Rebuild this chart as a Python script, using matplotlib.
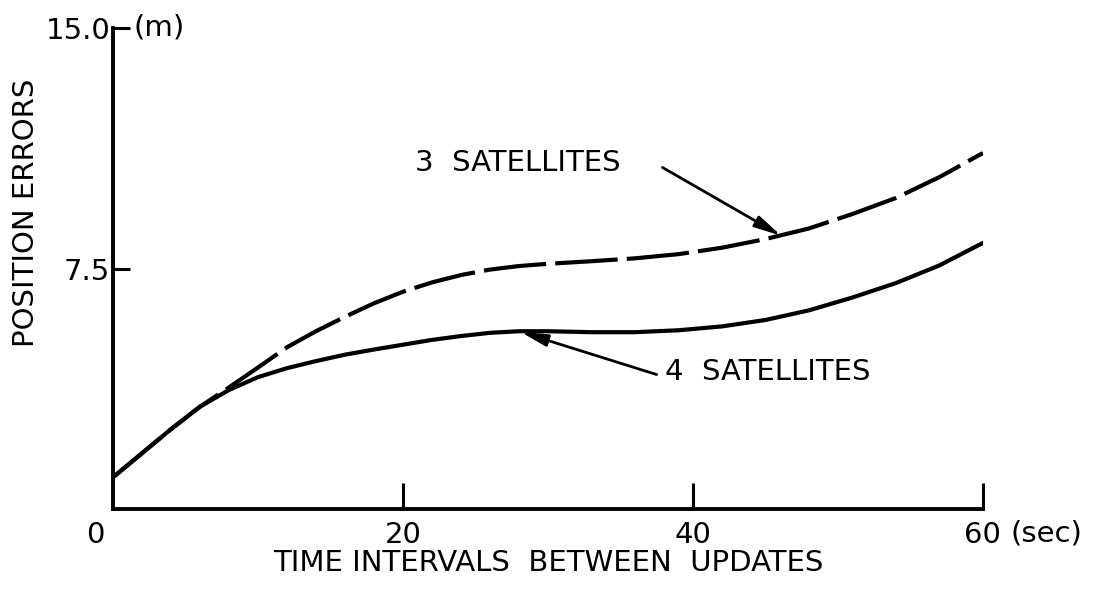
import matplotlib

matplotlib.use("Agg")
import matplotlib.pyplot as plt
import matplotlib.transforms as mtransforms

# Valores (error de posicion en m vs intervalo en s).
t_sec = [0, 2, 4, 6, 8, 10, 12, 14, 16, 18, 20, 22, 24, 26, 28, 30,
         33, 36, 39, 42, 45, 48, 51, 54, 57, 60]
err_3sat = [1.0, 1.75, 2.5, 3.2, 3.8, 4.42, 5.05, 5.55, 6.0, 6.42, 6.78, 7.07, 7.3, 7.47, 7.58, 7.65,
            7.73, 7.82, 7.95, 8.15, 8.42, 8.75, 9.2, 9.7, 10.35, 11.1]
err_4sat = [1.0, 1.75, 2.5, 3.2, 3.72, 4.12, 4.4, 4.62, 4.82, 4.98, 5.13, 5.28, 5.4, 5.5, 5.55, 5.55,
            5.52, 5.52, 5.58, 5.7, 5.9, 6.2, 6.6, 7.05, 7.6, 8.3]

x_ticks = [0, 20, 40, 60]
x_ticklabels = ["0", "20", "40", "60"]
y_ticks = [7.5, 15.0]
y_ticklabels = ["7.5", "15.0"]

FS = 21

fig = plt.figure(figsize=(10.97, 5.91), dpi=100)
ax = fig.add_axes([0.103, 0.138, 0.793, 0.815])

ax.plot(t_sec, err_4sat, color="black", lw=3.0, solid_capstyle="round")
ax.plot(t_sec, err_3sat, color="black", lw=3.0, dashes=(15, 2.2))

ax.set_xlim(0, 60)
ax.set_ylim(0, 15)
for side in ("top", "right"):
    ax.spines[side].set_visible(False)
for side in ("left", "bottom"):
    ax.spines[side].set_linewidth(2.8)

ax.set_xticks(x_ticks)
ax.set_xticklabels(x_ticklabels, fontsize=FS)
ax.set_yticks(y_ticks)
ax.set_yticklabels(y_ticklabels, fontsize=FS)
ax.tick_params(axis="x", direction="in", length=19, width=2.2, pad=8)
ax.tick_params(axis="y", direction="in", length=12, width=2.2, pad=2)
# la marca en x=0 coincide con el eje vertical
ax.xaxis.get_major_ticks()[0].tick1line.set_visible(False)
# "0" desplazado a la izquierda del origen
lab0 = ax.get_xticklabels()[0]
lab0.set_transform(lab0.get_transform() + mtransforms.ScaledTranslation(-18 / 100, 0, fig.dpi_scale_trans))

ax.text(61.9, -0.32, "(sec)", fontsize=FS, ha="left", va="top")
ax.text(1.4, 15.0, "(m)", fontsize=FS, ha="left", va="center")

ax.set_xlabel("TIME INTERVALS  BETWEEN  UPDATES", fontsize=FS, labelpad=0)
fig.text(0.024, 0.64, "POSITION ERRORS", rotation=90, fontsize=FS, ha="center", va="center")

arrow = dict(arrowstyle="-|>,head_length=0.9,head_width=0.2", color="black", lw=2.0,
             mutation_scale=18, shrinkA=0, shrinkB=0)
ax.text(20.8, 10.8, "3  SATELLITES", fontsize=FS, ha="left", va="center")
ax.annotate("", xy=(46.1, 8.52), xytext=(37.9, 10.65), arrowprops=arrow)
ax.text(38.1, 4.29, "4  SATELLITES", fontsize=FS, ha="left", va="center")
ax.annotate("", xy=(28.1, 5.53), xytext=(37.5, 4.2), arrowprops=arrow)

fig.savefig("out.png", dpi=100)
